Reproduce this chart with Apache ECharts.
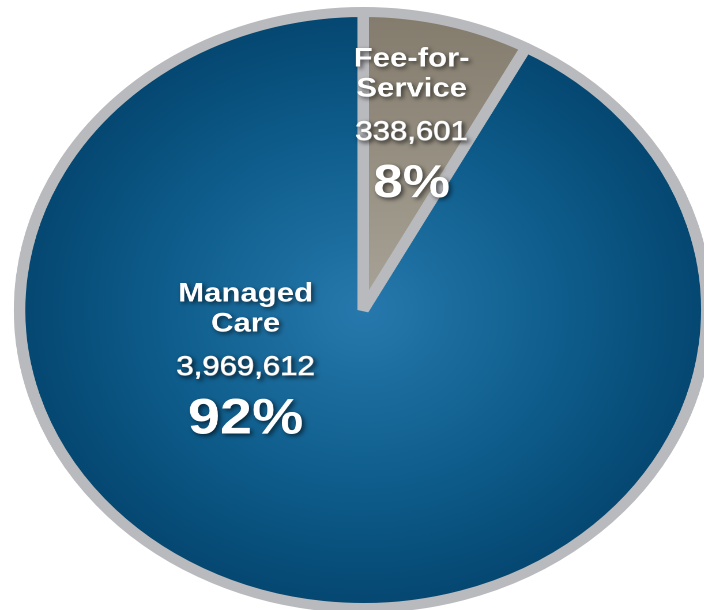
<!DOCTYPE html>
<html>
<head>
<meta charset="utf-8">
<script src="https://cdn.jsdelivr.net/npm/echarts@6/dist/echarts.min.js"></script>
<style>
  html, body { margin: 0; padding: 0; background: #ffffff; overflow: hidden; }
  #wrap { width: 704px; height: 610px; overflow: hidden; position: relative; }
  #chart { width: 611px; height: 610px; transform: scaleX(1.153); transform-origin: 0 0; }
</style>
</head>
<body>
<div id="wrap"><div id="chart"></div></div>
<script>
// ---- data ----
const categories = ['Fee-for-\nService', 'Managed\nCare'];
const values = [338601, 3969612];

const sliceColors = [
  { type: 'linear', x: 0, y: 0, x2: 0, y2: 1,
    colorStops: [{ offset: 0, color: '#837b6c' }, { offset: 1, color: '#aaa599' }] },
  { type: 'radial', x: 0.5, y: 0.5, r: 0.5,
    colorStops: [{ offset: 0, color: '#2779ad' }, { offset: 0.55, color: '#0f5e8d' }, { offset: 1, color: '#044670' }] }
];

// label block anchor points (unscaled layout px)
const labelAnchors = [
  { x: 357, y: 126 },
  { x: 213, y: 361 }
];

const shadow = {
  textShadowColor: 'rgba(0,0,0,0.6)',
  textShadowBlur: 4,
  textShadowOffsetX: 2,
  textShadowOffsetY: 2
};
const font = '"Liberation Sans", Arial, Helvetica, sans-serif';

const chart = echarts.init(document.getElementById('chart'), null, { renderer: 'canvas', devicePixelRatio: 2 });

chart.setOption({
  animation: false,
  series: [{
    type: 'pie',
    center: [315, 310],
    radius: 298,
    startAngle: 90,
    clockwise: true,
    silent: true,
    percentPrecision: 0,
    avoidLabelOverlap: false,
    data: categories.map((c, i) => ({
      name: c,
      value: values[i],
      itemStyle: { color: sliceColors[i] }
    })),
    itemStyle: { borderColor: '#b9babe', borderWidth: 10, borderJoin: 'bevel' },
    labelLine: { show: false },
    label: {
      show: true,
      position: 'inside',
      color: '#ffffff',
      fontFamily: font,
      formatter: function (p) {
        const pct = p.dataIndex === 1 ? 'pb' : 'ps';
        const lines = p.name.split('\n').map(s => '{n|' + s + '}').join('\n');
        return lines + '\n{v|' + echarts.format.addCommas(p.value) + '}\n{' + pct + '|' + p.percent + '%}';
      },
      rich: {
        n: Object.assign({ fontSize: 27, fontWeight: 'bold', lineHeight: 30, color: '#fff', fontFamily: font }, shadow),
        v: Object.assign({ fontSize: 27, fontWeight: 'normal', lineHeight: 57, color: '#fff', fontFamily: font,
                           textBorderColor: '#ffffff', textBorderWidth: 0.9 }, shadow),
        pb: Object.assign({ fontSize: 50, fontWeight: 'bold', lineHeight: 47, color: '#fff', fontFamily: font }, shadow),
        ps: Object.assign({ fontSize: 46, fontWeight: 'bold', lineHeight: 47, color: '#fff', fontFamily: font }, shadow)
      }
    },
    labelLayout: function (params) {
      const a = labelAnchors[params.dataIndex];
      return { x: a.x, y: a.y, align: 'center', verticalAlign: 'middle' };
    }
  }]
});
</script>
</body>
</html>
